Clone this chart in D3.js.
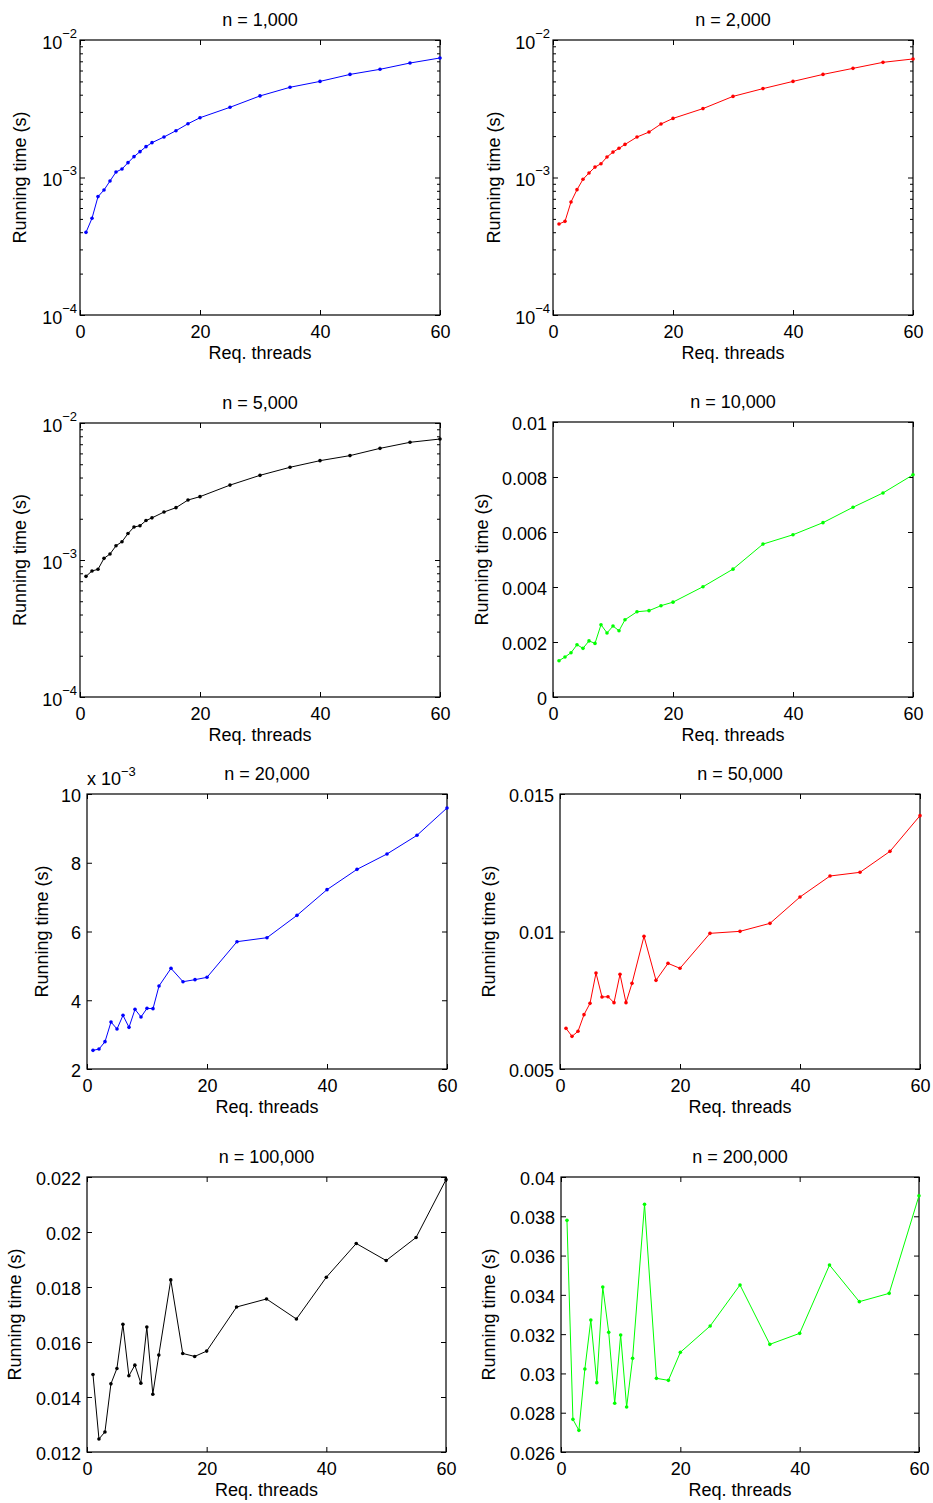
<!DOCTYPE html>
<html>
<head>
<meta charset="utf-8">
<script src="https://cdn.jsdelivr.net/npm/d3@7"></script>
<style>
  body { margin: 0; background: #fff; }
  svg text { font-family: "Liberation Sans", Arial, sans-serif; fill: #000; }
</style>
</head>
<body>
<script>
// requested thread counts (x values shared by every panel)
var threads = [1, 2, 3, 4, 5, 6, 7, 8, 9, 10, 11, 12, 14, 16, 18, 20, 25, 30, 35, 40, 45, 50, 55, 60];

// running times in seconds, one array per problem size
var t1k = [3.99e-4, 5.05e-4, 7.26e-4, 8.11e-4, 9.43e-4, 1.096e-3, 1.153e-3, 1.282e-3, 1.418e-3, 1.542e-3, 1.676e-3, 1.792e-3,
           1.971e-3, 2.19e-3, 2.46e-3, 2.72e-3, 3.24e-3, 3.92e-3, 4.53e-3, 5.0e-3, 5.62e-3, 6.12e-3, 6.8e-3, 7.4e-3];
var t2k = [4.59e-4, 4.8e-4, 6.64e-4, 8.16e-4, 9.7e-4, 1.079e-3, 1.19e-3, 1.26e-3, 1.41e-3, 1.53e-3, 1.63e-3, 1.74e-3,
           1.97e-3, 2.14e-3, 2.45e-3, 2.69e-3, 3.17e-3, 3.89e-3, 4.43e-3, 5.0e-3, 5.62e-3, 6.22e-3, 6.88e-3, 7.28e-3];
var t5k = [7.6e-4, 8.32e-4, 8.55e-4, 1.028e-3, 1.106e-3, 1.27e-3, 1.36e-3, 1.56e-3, 1.74e-3, 1.78e-3, 1.94e-3, 2.03e-3,
           2.24e-3, 2.41e-3, 2.74e-3, 2.9e-3, 3.52e-3, 4.15e-3, 4.75e-3, 5.31e-3, 5.78e-3, 6.53e-3, 7.23e-3, 7.64e-3];
var t10k = [0.00132, 0.001455, 0.00161, 0.0019, 0.00177, 0.00204, 0.00195, 0.00263, 0.00233, 0.00258, 0.00241, 0.00281,
            0.0031, 0.00314, 0.00332, 0.00345, 0.00401, 0.00465, 0.00556, 0.0059, 0.00634, 0.0069, 0.00742, 0.00808];
var t20k = [2.543e-3, 2.58e-3, 2.795e-3, 3.367e-3, 3.164e-3, 3.561e-3, 3.212e-3, 3.736e-3, 3.513e-3, 3.765e-3, 3.755e-3, 4.415e-3,
            4.928e-3, 4.54e-3, 4.599e-3, 4.667e-3, 5.704e-3, 5.82e-3, 6.47e-3, 7.217e-3, 7.808e-3, 8.255e-3, 8.798e-3, 9.593e-3];
var t50k = [0.006479, 0.006188, 0.00637, 0.006976, 0.007388, 0.008491, 0.007618, 0.00763, 0.007412, 0.008442, 0.007412, 0.008115,
            0.009824, 0.008224, 0.008842, 0.008661, 0.009933, 0.010006, 0.010297, 0.011255, 0.012018, 0.012152, 0.012915, 0.014212];
var t100k = [0.014819, 0.012474, 0.012729, 0.014479, 0.015038, 0.016641, 0.01477, 0.015159, 0.014503, 0.016544, 0.014102, 0.015524,
             0.018258, 0.015584, 0.015475, 0.015669, 0.017273, 0.017565, 0.016836, 0.018355, 0.019582, 0.018962, 0.019801, 0.021903];
var t200k = [0.037794, 0.027663, 0.027103, 0.030225, 0.03272, 0.02953, 0.0344, 0.032092, 0.028478, 0.031956, 0.028291, 0.030768,
             0.038608, 0.02975, 0.029648, 0.031074, 0.032415, 0.034502, 0.031481, 0.032041, 0.03552, 0.033653, 0.034077, 0.039049];

var titles = ["n = 1,000", "n = 2,000", "n = 5,000", "n = 10,000", "n = 20,000", "n = 50,000", "n = 100,000", "n = 200,000"];
var xTicks = [0, 20, 40, 60];

var svg = d3.select("body").append("svg")
    .attr("width", 933)
    .attr("height", 1503);

// box = [left, top, right, bottom] of the plot area, lab = distance of y label baseline from left edge
var panels = [
  { title: titles[0], vals: t1k,   color: "#0000ff", log: true, box: [80, 40, 440, 315], lab: 54 },
  { title: titles[1], vals: t2k,   color: "#ff0000", log: true, box: [553, 40, 913, 315], lab: 53 },
  { title: titles[2], vals: t5k,   color: "#000000", log: true, box: [80, 423, 440, 697], lab: 54 },
  { title: titles[3], vals: t10k,  color: "#00ff00", domain: [0, 0.01], ticks: d3.range(0, 0.0101, 0.002),
    fmt: function(d) { return d === 0 ? "0" : d3.format(".3~f")(d); }, box: [553, 422, 913, 697], lab: 65 },
  { title: titles[4], vals: t20k,  color: "#0000ff", domain: [2e-3, 10e-3], ticks: [2e-3, 4e-3, 6e-3, 8e-3, 10e-3],
    fmt: function(d) { return Math.round(d * 1000); }, exp: true, box: [87, 794, 447, 1069], lab: 39 },
  { title: titles[5], vals: t50k,  color: "#ff0000", domain: [0.005, 0.015], ticks: [0.005, 0.01, 0.015],
    fmt: d3.format(".3~f"), box: [560, 794, 920, 1069], lab: 65 },
  { title: titles[6], vals: t100k, color: "#000000", domain: [0.012, 0.022], ticks: d3.range(0.012, 0.0221, 0.002),
    fmt: d3.format(".3~f"), box: [87, 1177, 446, 1452], lab: 66 },
  { title: titles[7], vals: t200k, color: "#00ff00", domain: [0.026, 0.04], ticks: d3.range(0.026, 0.0401, 0.002),
    fmt: d3.format(".3~f"), box: [561, 1177, 919, 1452], lab: 66 }
];

panels.forEach(function(p) {
  var L = p.box[0], T = p.box[1], R = p.box[2], B = p.box[3];
  var g = svg.append("g");

  var x = d3.scaleLinear().domain([0, 60]).range([L, R]);
  var y = p.log
      ? d3.scaleLog().domain([1e-4, 1e-2]).range([B, T])
      : d3.scaleLinear().domain(p.domain).range([B, T]);

  // x axes (inward ticks, mirrored on top)
  var xb = g.append("g").attr("transform", "translate(0," + B + ")")
      .call(d3.axisBottom(x).tickValues(xTicks).tickSizeInner(-5).tickSizeOuter(0).tickPadding(10));
  g.append("g").attr("transform", "translate(0," + T + ")")
      .call(d3.axisTop(x).tickValues(xTicks).tickSizeInner(-5).tickSizeOuter(0).tickFormat(""));

  var yTicks = p.log ? [1e-4, 1e-3, 1e-2] : p.ticks;
  var yl = g.append("g").attr("transform", "translate(" + L + ",0)")
      .call(d3.axisLeft(y).tickValues(yTicks).tickSizeInner(-5).tickSizeOuter(0).tickPadding(6)
        .tickFormat(p.log ? "" : p.fmt));
  g.append("g").attr("transform", "translate(" + R + ",0)")
      .call(d3.axisRight(y).tickValues(yTicks).tickSizeInner(-5).tickSizeOuter(0).tickFormat(""));

  if (p.log) {
    var minors = [];
    [1e-4, 1e-3].forEach(function(dec) {
      for (var k = 2; k <= 9; k++) minors.push(dec * k);
    });
    g.append("g").attr("transform", "translate(" + L + ",0)")
        .call(d3.axisLeft(y).tickValues(minors).tickSizeInner(-3).tickSizeOuter(0).tickFormat(""));
    g.append("g").attr("transform", "translate(" + R + ",0)")
        .call(d3.axisRight(y).tickValues(minors).tickSizeInner(-3).tickSizeOuter(0).tickFormat(""));

    // 10^k labels
    yl.selectAll(".tick text").each(function(d) {
      var t = d3.select(this).attr("x", -3).attr("dy", null).attr("y", 8);
      t.append("tspan").text("10");
      t.append("tspan").attr("dy", -11).style("font-size", "13px")
          .text("\u2212" + Math.round(-Math.log10(d)));
    });
  }

  g.selectAll(".domain").remove();
  g.selectAll(".tick line").attr("stroke", "#000");
  g.selectAll(".tick text").style("font-size", "18px");
  xb.selectAll(".tick text").attr("dy", "0.72em");
  if (!p.log) yl.selectAll(".tick text").attr("dy", "0.4em");

  // frame
  g.append("rect")
      .attr("x", L).attr("y", T).attr("width", R - L).attr("height", B - T)
      .attr("fill", "none").attr("stroke", "#000").attr("stroke-width", 1.2);

  var pts = threads.map(function(t, i) { return [t, p.vals[i]]; });
  var line = d3.line().x(function(d) { return x(d[0]); }).y(function(d) { return y(d[1]); });

  g.append("path").datum(pts)
      .attr("d", line)
      .attr("fill", "none")
      .attr("stroke", p.color)
      .attr("stroke-width", 1);

  g.selectAll(".dot").data(pts).enter().append("circle")
      .attr("class", "dot")
      .attr("cx", function(d) { return x(d[0]); })
      .attr("cy", function(d) { return y(d[1]); })
      .attr("r", 1.8)
      .attr("fill", p.color);

  g.append("text")
      .attr("x", (L + R) / 2).attr("y", T - 14)
      .attr("text-anchor", "middle").style("font-size", "18px")
      .text(p.title);

  g.append("text")
      .attr("x", (L + R) / 2).attr("y", B + 44)
      .attr("text-anchor", "middle").style("font-size", "18px")
      .text("Req. threads");

  g.append("text")
      .attr("transform", "translate(" + (L - p.lab) + "," + ((T + B) / 2) + ") rotate(-90)")
      .attr("text-anchor", "middle").style("font-size", "18px")
      .text("Running time (s)");

  if (p.exp) {
    var e = g.append("text").attr("x", L).attr("y", T - 9).style("font-size", "18px");
    e.append("tspan").text("x 10");
    e.append("tspan").attr("dy", -9).style("font-size", "13px").text("\u22123");
  }
});
</script>
</body>
</html>
